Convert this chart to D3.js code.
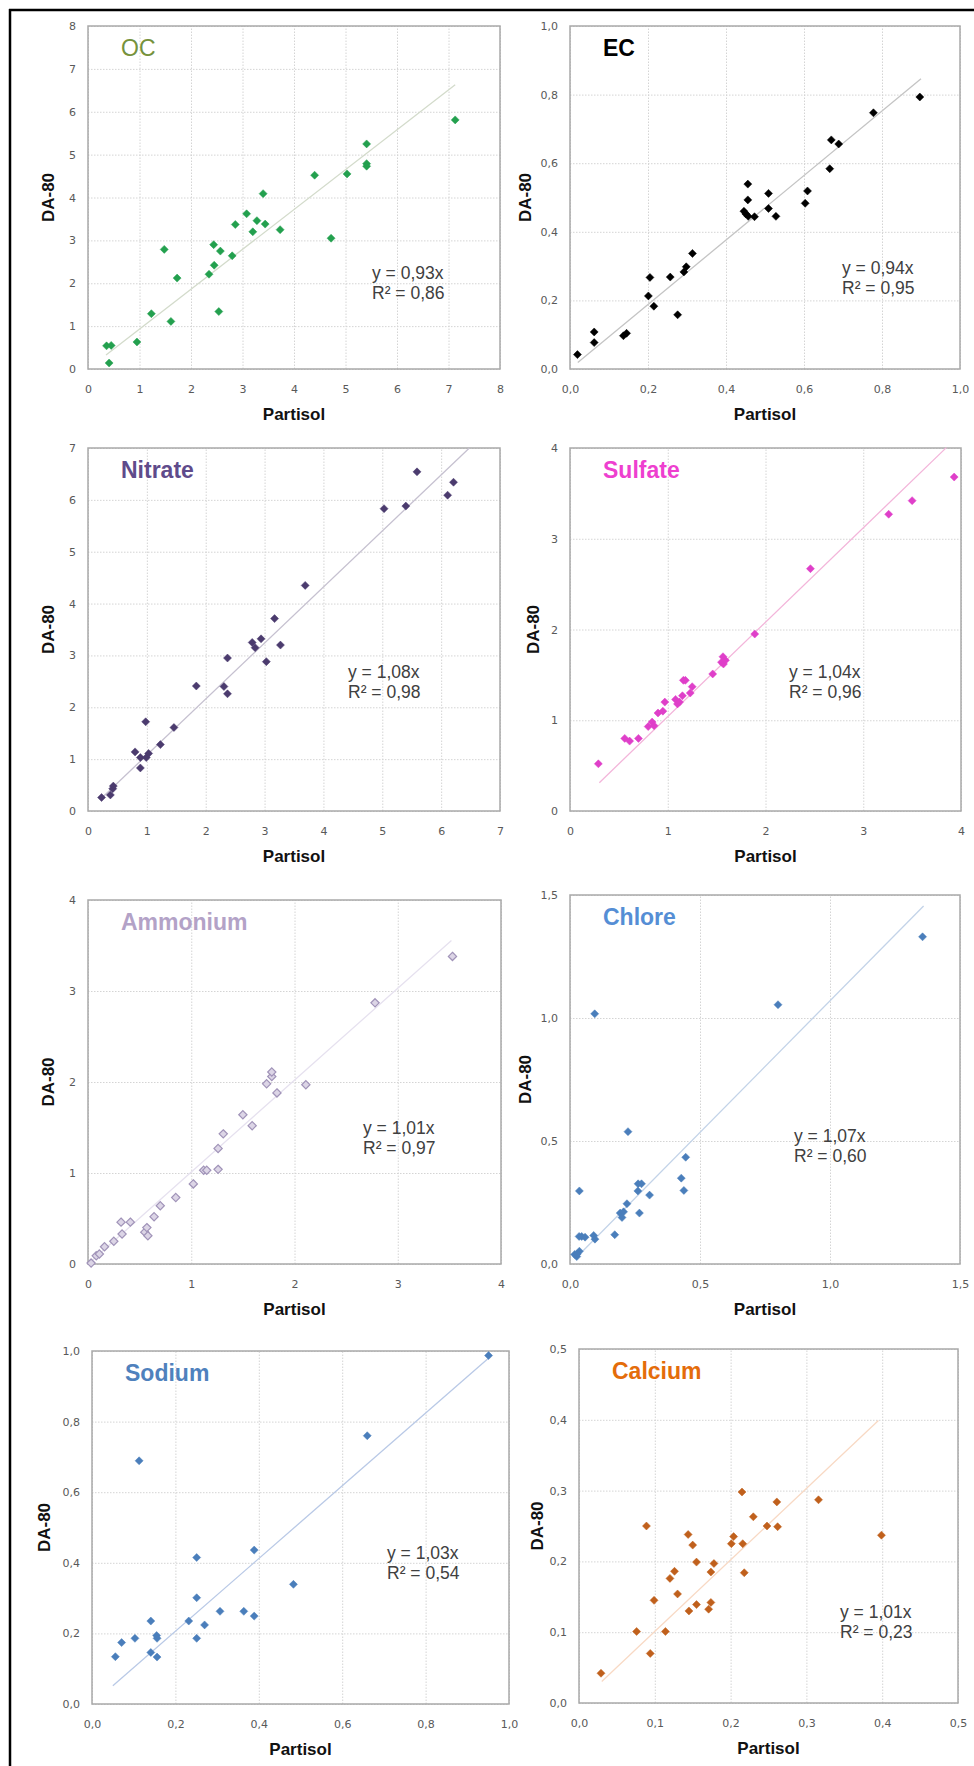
<!DOCTYPE html>
<html>
<head>
<meta charset="utf-8">
<script src="https://cdn.jsdelivr.net/npm/d3@7"></script>
<style>
  body { margin: 0; background: #fff; }
  svg { display: block; }
  .tick text { font-family: "DejaVu Sans", Verdana, sans-serif; font-size: 11px; fill: #595959; }
  .grid line { stroke: #d4d4d4; stroke-dasharray: 1.5,1.5; }
  .grid .domain { display: none; }
</style>
</head>
<body>
<div id="chart"></div>
<script>
// ---- data ----
const ocX = [0.36,0.45,0.41,0.95,1.23,1.48,1.61,1.73,2.35,2.44,2.45,2.54,2.57,2.80,2.86,3.08,3.20,3.28,3.40,3.44,3.73,4.40,4.72,5.03,5.41,5.41,5.41,7.13];
const ocY = [0.54,0.55,0.14,0.63,1.29,2.79,1.11,2.12,2.21,2.90,2.42,1.34,2.75,2.64,3.37,3.62,3.20,3.46,4.09,3.38,3.25,4.52,3.05,4.55,5.25,4.79,4.73,5.81];

const ecX = [0.019,0.062,0.062,0.137,0.145,0.201,0.205,0.215,0.257,0.276,0.292,0.298,0.314,0.446,0.451,0.456,0.456,0.457,0.473,0.509,0.509,0.528,0.603,0.609,0.666,0.670,0.689,0.778,0.897];
const ecY = [0.042,0.108,0.077,0.097,0.104,0.213,0.267,0.183,0.268,0.158,0.283,0.298,0.337,0.460,0.452,0.539,0.493,0.445,0.444,0.512,0.468,0.445,0.483,0.519,0.584,0.668,0.656,0.747,0.793];

const nitrateX = [0.23,0.38,0.42,0.43,0.80,0.89,0.89,0.99,1.03,0.98,1.23,1.46,1.84,2.31,2.37,2.37,2.79,2.84,2.94,3.03,3.17,3.27,3.69,5.03,5.40,5.59,6.11,6.21];
const nitrateY = [0.26,0.31,0.43,0.48,1.14,1.03,0.83,1.03,1.11,1.72,1.28,1.61,2.41,2.40,2.26,2.95,3.25,3.15,3.32,2.88,3.71,3.20,4.35,5.83,5.88,6.54,6.09,6.34];

const sulfateX = [0.29,0.56,0.61,0.70,0.80,0.84,0.86,0.90,0.95,0.97,1.08,1.10,1.12,1.15,1.16,1.18,1.23,1.25,1.46,1.55,1.565,1.57,1.59,1.89,2.46,3.26,3.50,3.93];
const sulfateY = [0.52,0.80,0.77,0.80,0.93,0.98,0.94,1.08,1.10,1.20,1.23,1.18,1.20,1.27,1.44,1.44,1.30,1.37,1.51,1.64,1.70,1.62,1.66,1.95,2.67,3.27,3.42,3.68];

const ammoniumX = [0.03,0.08,0.11,0.16,0.25,0.32,0.33,0.41,0.55,0.57,0.58,0.64,0.70,0.85,1.02,1.12,1.15,1.26,1.26,1.31,1.50,1.59,1.73,1.78,1.78,1.83,2.11,2.78,3.53];
const ammoniumY = [0.01,0.09,0.11,0.19,0.25,0.46,0.33,0.46,0.35,0.40,0.31,0.52,0.64,0.73,0.88,1.03,1.03,1.04,1.27,1.43,1.64,1.52,1.98,2.06,2.11,1.88,1.97,2.87,3.38];

const chloreX = [1.356,0.80,0.095,0.223,0.445,0.428,0.438,0.262,0.275,0.261,0.306,0.219,0.267,0.193,0.206,0.20,0.172,0.036,0.035,0.045,0.058,0.091,0.096,0.036,0.026,0.018,0.028];
const chloreY = [1.33,1.054,1.017,0.538,0.434,0.349,0.299,0.326,0.326,0.297,0.28,0.245,0.207,0.207,0.212,0.189,0.119,0.297,0.112,0.112,0.109,0.116,0.101,0.052,0.03,0.039,0.041];

const sodiumX = [0.056,0.071,0.103,0.113,0.141,0.141,0.155,0.156,0.156,0.232,0.251,0.251,0.251,0.27,0.307,0.364,0.389,0.389,0.483,0.66,0.951];
const sodiumY = [0.134,0.174,0.186,0.689,0.235,0.146,0.194,0.186,0.133,0.235,0.415,0.301,0.186,0.224,0.2625,0.2625,0.249,0.436,0.339,0.76,0.987];

const calciumX = [0.029,0.076,0.089,0.094,0.099,0.114,0.120,0.126,0.130,0.144,0.145,0.150,0.155,0.155,0.171,0.174,0.174,0.178,0.201,0.204,0.215,0.216,0.218,0.230,0.248,0.261,0.262,0.316,0.399];
const calciumY = [0.042,0.101,0.250,0.070,0.145,0.101,0.176,0.186,0.154,0.238,0.130,0.223,0.139,0.199,0.1325,0.142,0.185,0.197,0.225,0.235,0.298,0.225,0.184,0.263,0.250,0.284,0.249,0.287,0.237];

// name, axis max, tick step, slope, R², trendline x-range
const names   = ['OC', 'EC', 'Nitrate', 'Sulfate', 'Ammonium', 'Chlore', 'Sodium', 'Calcium'];
const axisMax = [8, 1, 7, 4, 4, 1.5, 1, 0.5];
const tickStep = [1, 0.2, 1, 1, 1, 0.5, 0.2, 0.1];
const slopes  = ['0,93', '0,94', '1,08', '1,04', '1,01', '1,07', '1,03', '1,01'];
const r2      = ['0,86', '0,95', '0,98', '0,96', '0,97', '0,60', '0,54', '0,23'];
const slopeVal = [0.93, 0.94, 1.08, 1.04, 1.01, 1.07, 1.03, 1.01];
const trendRange = [[0.35, 7.13], [0.02, 0.9], [0.22, 6.48], [0.3, 3.85], [0.03, 3.52], [0.02, 1.36], [0.05, 0.95], [0.03, 0.395]];
const xs = [ocX, ecX, nitrateX, sulfateX, ammoniumX, chloreX, sodiumX, calciumX];
const ys = [ocY, ecY, nitrateY, sulfateY, ammoniumY, chloreY, sodiumY, calciumY];

// ---- layout & style ----
const boxes = [
    { l: 88,  t: 26,   w: 412, h: 343 },
    { l: 570, t: 26,   w: 390, h: 343 },
    { l: 88,  t: 448,  w: 412, h: 363 },
    { l: 570, t: 448,  w: 391, h: 363 },
    { l: 88,  t: 900,  w: 413, h: 364 },
    { l: 570, t: 895,  w: 390, h: 369 },
    { l: 92,  t: 1351, w: 417, h: 353 },
    { l: 579, t: 1349, w: 379, h: 354 }
];
const eqPos = [[284, 247], [272, 242], [260, 224], [219, 224], [275, 228], [224, 241], [295, 202], [261, 263]];
const yLabelOff = [40, 45, 40, 37, 40, 45, 48, 42];
const titleColor = ['#76923c', '#000000', '#5f4b8b', '#ee3fcf', '#b3a2c7', '#558ed5', '#4f81bd', '#e46c0a'];
const titleWeight = ['normal', 'bold', 'bold', 'bold', 'bold', 'bold', 'bold', 'bold'];
const markFill = ['#23a04e', '#000000', '#4b3b6e', '#df3fc9', '#dcd5e6', '#4a7ebb', '#4a7ebb', '#c0601c'];
const markStroke = ['#23a04e', '#000000', '#4b3b6e', '#df3fc9', '#a093b8', '#4a7ebb', '#4a7ebb', '#c0601c'];
const trendColor = ['#d3dbcb', '#c4c4c4', '#c6c1d0', '#f3b5da', '#e6e1ef', '#c3d3e8', '#b9c9e6', '#f8d9c4'];

// square diamond (Excel style)
const diamond = {
    draw: function (ctx, size) {
        const r = Math.sqrt(size / 2);
        ctx.moveTo(0, -r);
        ctx.lineTo(r, 0);
        ctx.lineTo(0, r);
        ctx.lineTo(-r, 0);
        ctx.closePath();
    }
};

const svg = d3.select('#chart').append('svg')
    .attr('width', 974)
    .attr('height', 1766);

// frame lines (left and top)
svg.append('line').attr('x1', 10).attr('x2', 10).attr('y1', 9).attr('y2', 1766)
    .attr('stroke', '#000').attr('stroke-width', 2.5);
svg.append('line').attr('x1', 9).attr('x2', 974).attr('y1', 10).attr('y2', 10)
    .attr('stroke', '#000').attr('stroke-width', 2.5);

function drawPanel(i) {
    const b = boxes[i];
    const g = svg.append('g').attr('transform', 'translate(' + b.l + ',' + b.t + ')');

    const xScale = d3.scaleLinear().domain([0, axisMax[i]]).range([0, b.w]);
    const yScale = d3.scaleLinear().domain([0, axisMax[i]]).range([b.h, 0]);
    const ticks = d3.range(0, axisMax[i] + tickStep[i] / 2, tickStep[i]);
    const fmt = tickStep[i] < 1 ? function (d) { return d3.format('.1f')(d).replace('.', ','); } : d3.format('d');

    // grid
    g.append('g').attr('class', 'grid')
        .call(d3.axisLeft(yScale).tickValues(ticks).tickSize(-b.w).tickFormat(''));
    g.append('g').attr('class', 'grid')
        .attr('transform', 'translate(0,' + b.h + ')')
        .call(d3.axisBottom(xScale).tickValues(ticks).tickSize(-b.h).tickFormat(''));

    // plot border
    g.append('rect')
        .attr('width', b.w).attr('height', b.h)
        .attr('fill', 'none')
        .attr('stroke', '#a9a9a9')
        .attr('stroke-width', 1.5);

    // tick labels
    const xAxis = g.append('g')
        .attr('transform', 'translate(0,' + b.h + ')')
        .call(d3.axisBottom(xScale).tickValues(ticks).tickSize(0).tickPadding(16).tickFormat(fmt));
    xAxis.select('.domain').remove();
    const yAxis = g.append('g')
        .call(d3.axisLeft(yScale).tickValues(ticks).tickSize(0).tickPadding(12).tickFormat(fmt));
    yAxis.select('.domain').remove();

    // trendline
    const line = d3.line()
        .x(function (d) { return xScale(d); })
        .y(function (d) { return yScale(slopeVal[i] * d); });
    g.append('path')
        .attr('d', line(trendRange[i]))
        .attr('fill', 'none')
        .attr('stroke', trendColor[i])
        .attr('stroke-width', 1.3);

    // points
    const pts = xs[i].map(function (x, k) { return [x, ys[i][k]]; });
    g.selectAll('path.pt')
        .data(pts)
        .enter().append('path')
        .attr('class', 'pt')
        .attr('d', d3.symbol().type(diamond).size(i === 4 ? 34 : 32))
        .attr('transform', function (d) { return 'translate(' + xScale(d[0]) + ',' + yScale(d[1]) + ')'; })
        .attr('fill', markFill[i])
        .attr('stroke', markStroke[i])
        .attr('stroke-width', i === 4 ? 1.2 : 0.5);

    // title
    g.append('text')
        .attr('x', 33)
        .attr('y', 30)
        .attr('font-family', 'Liberation Sans, Arial, sans-serif')
        .attr('font-size', 23)
        .attr('font-weight', titleWeight[i])
        .attr('fill', titleColor[i])
        .text(names[i]);

    // equation
    const eq = g.append('text')
        .attr('font-family', 'Liberation Sans, Arial, sans-serif')
        .attr('font-size', 17.5)
        .attr('fill', '#404040');
    eq.append('tspan').attr('x', eqPos[i][0]).attr('y', eqPos[i][1] + 6).text('y = ' + slopes[i] + 'x');
    eq.append('tspan').attr('x', eqPos[i][0]).attr('y', eqPos[i][1] + 25.5).text('R² = ' + r2[i]);

    // axis titles
    g.append('text')
        .attr('x', b.w / 2)
        .attr('y', b.h + 51)
        .attr('text-anchor', 'middle')
        .attr('font-family', 'Liberation Sans, Arial, sans-serif')
        .attr('font-size', 17)
        .attr('font-weight', 'bold')
        .attr('fill', '#111')
        .text('Partisol');
    g.append('text')
        .attr('transform', 'translate(' + (-yLabelOff[i] + 6) + ',' + (b.h / 2) + ') rotate(-90)')
        .attr('text-anchor', 'middle')
        .attr('font-family', 'Liberation Sans, Arial, sans-serif')
        .attr('font-size', 17)
        .attr('font-weight', 'bold')
        .attr('fill', '#111')
        .text('DA-80');
}

for (let i = 0; i < names.length; i++) {
    drawPanel(i);
}
</script>
</body>
</html>
